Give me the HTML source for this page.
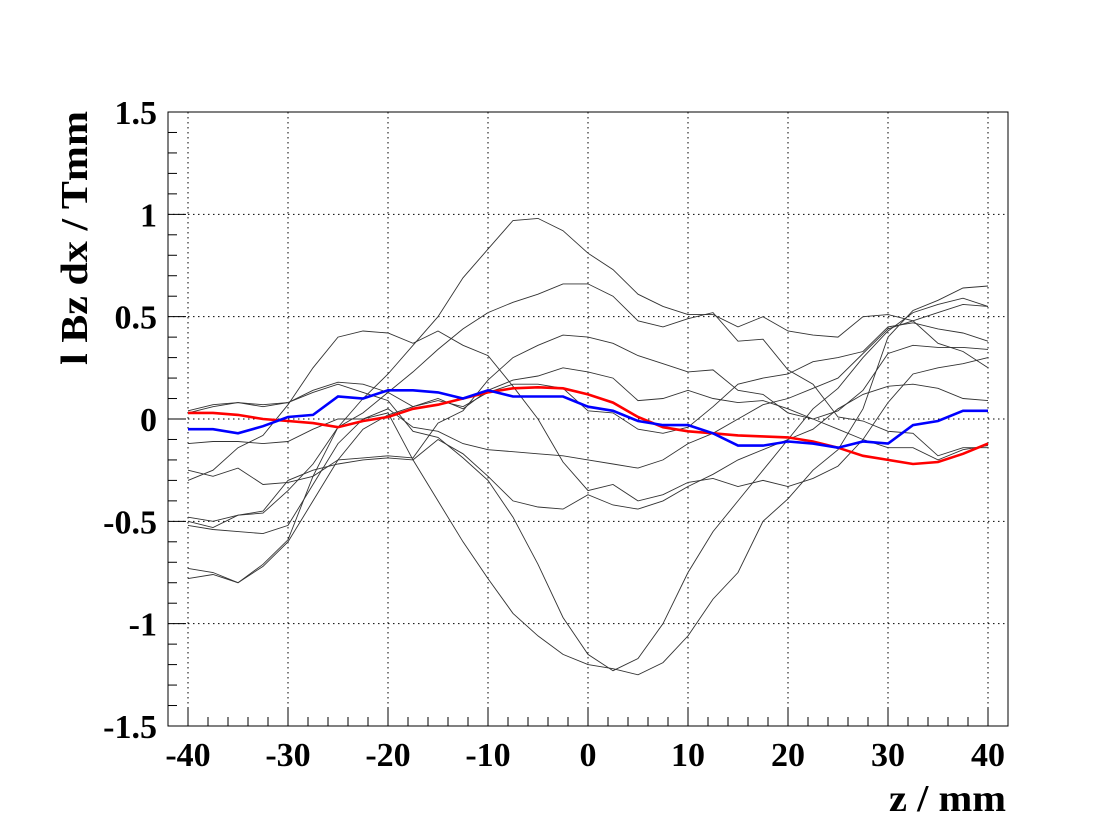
<!DOCTYPE html>
<html><head><meta charset="utf-8"><style>
body{margin:0;background:#fff}
svg{display:block}
text{font-family:"Liberation Serif",serif;font-weight:bold;fill:#000}
</style></head><body>
<svg id="chart" width="1120" height="839" viewBox="0 0 1120 839">
<rect width="1120" height="839" fill="#fff"/>
<g id="grid"></g><g id="series"></g><g id="axes"></g>
<text transform="translate(87,238) rotate(-90)" text-anchor="middle" font-size="38" textLength="254" lengthAdjust="spacingAndGlyphs">l Bz dx / Tmm</text>
<text x="1006" y="811" text-anchor="end" font-size="38" textLength="117" lengthAdjust="spacingAndGlyphs">z / mm</text>
</svg>
<script>
const zValues=[-40,-37.5,-35,-32.5,-30,-27.5,-25,-22.5,-20,-17.5,-15,-12.5,-10,-7.5,-5,-2.5,0,2.5,5,7.5,10,12.5,15,17.5,20,22.5,25,27.5,30,32.5,35,37.5,40];
const redSeries=[0.03,0.03,0.02,0,-0.01,-0.02,-0.04,-0.01,0.01,0.05,0.07,0.1,0.13,0.15,0.155,0.15,0.12,0.08,0.01,-0.04,-0.06,-0.07,-0.08,-0.085,-0.09,-0.11,-0.14,-0.18,-0.2,-0.22,-0.21,-0.17,-0.12];
const blueSeries=[-0.05,-0.05,-0.07,-0.035,0.01,0.02,0.11,0.1,0.14,0.14,0.13,0.1,0.14,0.11,0.11,0.11,0.06,0.04,-0.01,-0.03,-0.03,-0.07,-0.13,-0.13,-0.11,-0.12,-0.14,-0.11,-0.12,-0.03,-0.01,0.04,0.04];
const gray1=[-0.73,-0.75,-0.8,-0.71,-0.59,-0.28,-0.04,0.1,0.22,0.36,0.5,0.69,0.83,0.97,0.98,0.92,0.81,0.73,0.61,0.55,0.51,0.51,0.45,0.5,0.43,0.41,0.4,0.5,0.51,0.48,0.37,0.33,0.25];
const gray2=[-0.48,-0.5,-0.47,-0.46,-0.35,-0.22,-0.04,0.03,0.13,0.23,0.34,0.44,0.52,0.57,0.61,0.66,0.66,0.6,0.48,0.45,0.49,0.52,0.38,0.39,0.24,0.17,0.01,-0.01,-0.06,-0.07,-0.18,-0.14,-0.14];
const gray3=[-0.25,-0.28,-0.24,-0.32,-0.31,-0.28,-0.2,-0.19,-0.18,-0.19,-0.02,0.04,0.19,0.3,0.36,0.41,0.4,0.37,0.31,0.27,0.23,0.24,0.14,0.12,0.03,0.0,0.04,0.14,0.32,0.36,0.35,0.35,0.34];
const gray4=[-0.3,-0.25,-0.14,-0.08,0.07,0.25,0.4,0.43,0.42,0.37,0.43,0.36,0.31,0.16,0.0,-0.21,-0.35,-0.32,-0.4,-0.37,-0.31,-0.29,-0.33,-0.3,-0.33,-0.29,-0.23,-0.1,0.08,0.22,0.25,0.27,0.3];
const gray5=[-0.52,-0.54,-0.55,-0.56,-0.52,-0.32,-0.12,0.0,0.03,-0.2,-0.4,-0.6,-0.78,-0.95,-1.06,-1.15,-1.2,-1.22,-1.25,-1.19,-1.06,-0.88,-0.75,-0.5,-0.39,-0.25,-0.15,0.05,0.4,0.53,0.58,0.64,0.65];
const gray6=[0.04,0.07,0.08,0.06,0.08,0.13,0.17,0.13,0.09,-0.06,-0.09,-0.19,-0.3,-0.48,-0.71,-0.97,-1.15,-1.23,-1.17,-1.0,-0.75,-0.55,-0.4,-0.25,-0.1,0.05,0.15,0.3,0.43,0.52,0.56,0.59,0.55];
const gray7=[-0.78,-0.76,-0.8,-0.72,-0.6,-0.4,-0.2,-0.05,0.02,0.06,0.1,0.05,0.14,0.19,0.21,0.25,0.23,0.2,0.09,0.1,0.14,0.1,0.08,0.09,0.05,0.0,-0.05,-0.1,-0.14,-0.14,-0.2,-0.15,-0.13];
const gray8=[0.03,0.06,0.08,0.07,0.08,0.14,0.18,0.17,0.13,0.06,0.09,0.06,0.13,0.17,0.17,0.15,0.04,0.03,-0.05,-0.07,-0.04,0.06,0.17,0.2,0.22,0.28,0.3,0.33,0.45,0.47,0.44,0.42,0.38];
const gray9=[-0.12,-0.11,-0.11,-0.12,-0.11,-0.05,0.0,0.0,0.05,-0.04,-0.06,-0.12,-0.15,-0.16,-0.17,-0.18,-0.2,-0.22,-0.24,-0.2,-0.12,-0.07,0.0,0.07,0.1,0.15,0.2,0.32,0.44,0.48,0.52,0.56,0.55];
const gray10=[-0.5,-0.53,-0.47,-0.45,-0.3,-0.25,-0.22,-0.2,-0.19,-0.2,-0.1,-0.17,-0.28,-0.4,-0.43,-0.44,-0.37,-0.42,-0.44,-0.4,-0.33,-0.27,-0.2,-0.15,-0.1,-0.05,0.05,0.12,0.16,0.17,0.15,0.1,0.09];
const grayList=[gray1,gray2,gray3,gray4,gray5,gray6,gray7,gray8,gray9,gray10];
const xTickLabels=[-40,-30,-20,-10,0,10,20,30,40];
const yTickLabels=[-1.5,-1,-0.5,0,0.5,1,1.5];

const NS="http://www.w3.org/2000/svg";
const L=168,R=1008,T=112,B=726;
const xMin=-42,xMax=42,yMin=-1.5,yMax=1.5;
const sx=v=>L+(v-xMin)/(xMax-xMin)*(R-L);
const sy=v=>B-(v-yMin)/(yMax-yMin)*(B-T);
function mk(tag,attrs,parent){const e=document.createElementNS(NS,tag);for(const k in attrs)e.setAttribute(k,attrs[k]);parent.appendChild(e);return e;}
const grid=document.getElementById('grid'),series=document.getElementById('series'),axes=document.getElementById('axes');

xTickLabels.forEach(v=>{
  const g=mk('line',{x1:sx(v),x2:sx(v),y1:T,y2:B,stroke:'#000','stroke-width':1,'stroke-dasharray':'1.5,3.5'},grid);
  
  
});
yTickLabels.forEach(v=>{
  const g=mk('line',{x1:L,x2:R,y1:sy(v),y2:sy(v),stroke:'#000','stroke-width':1,'stroke-dasharray':'1.5,3.5'},grid);
  
  
});

function pts(arr){return arr.map((v,i)=>sx(zValues[i]).toFixed(1)+','+sy(v).toFixed(1)).join(' ');}
grayList.forEach((arr,i)=>{
  const p=mk('polyline',{points:pts(arr),fill:'none',stroke:'#333','stroke-width':0.9},series);
  
  
});
const rp=mk('polyline',{points:pts(redSeries),fill:'none',stroke:'#f00','stroke-width':2.6},series);


const bp=mk('polyline',{points:pts(blueSeries),fill:'none',stroke:'#00f','stroke-width':2.6},series);



const fr=mk('rect',{x:L,y:T,width:R-L,height:B-T,fill:'none',stroke:'#000','stroke-width':1},axes);


for(let v=-42;v<=42;v+=2){
  const major=(v%10===0);
  mk('line',{x1:sx(v),x2:sx(v),y1:B,y2:B-(major?18:9),stroke:'#000','stroke-width':1},axes);
}
for(let k=-15;k<=15;k++){
  const v=k/10,major=(k%5===0);
  mk('line',{x1:L,x2:L+(major?18:9),y1:sy(v),y2:sy(v),stroke:'#000','stroke-width':1},axes);
}
xTickLabels.forEach(v=>{
  const t=mk('text',{x:sx(v),y:766,'text-anchor':'middle','font-size':34},axes);
  t.textContent=String(v);
  
  
});
yTickLabels.forEach(v=>{
  const t=mk('text',{x:157,y:sy(v)+12,'text-anchor':'end','font-size':34},axes);
  t.textContent=String(v);
  
  
});
</script>
</body></html>
